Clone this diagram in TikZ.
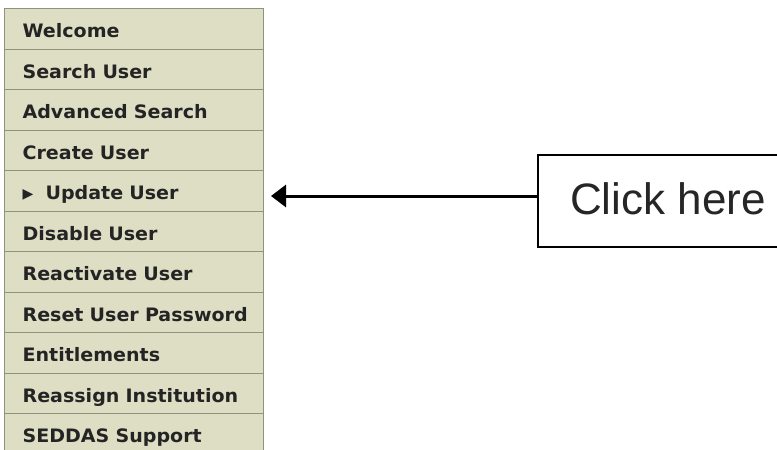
\documentclass[tikz,border=0pt]{standalone}
\usepackage{fontspec}
\setmainfont{Liberation Sans}
\newfontfamily\menufont[FakeStretch=1.03]{DejaVu Sans}
\newfontfamily\symfont{DejaVu Sans}
\usetikzlibrary{arrows.meta}
\definecolor{menubg}{RGB}{221,222,196}
\definecolor{menusep}{RGB}{140,148,126}
\definecolor{menutext}{RGB}{36,36,36}
\tikzset{
  item/.style={rectangle, anchor=north west, fill=menubg, draw=menusep, line width=1.2pt,
    minimum width=259pt, minimum height=40.5pt, inner xsep=0pt, inner ysep=0pt,
    text width=223pt, align=left, text height=17.5pt, text depth=0pt,
    font=\menufont\bfseries\fontsize{18.5}{20}\selectfont, text=menutext},
  callout/.style={rectangle, draw=black, line width=2pt, fill=white, anchor=north west,
    minimum width=260pt, minimum height=92pt, inner sep=0pt},
  pointer/.style={-{Triangle[length=15pt,width=22pt]}, line width=3pt, black}
}
\begin{document}
\begin{tikzpicture}[x=1pt,y=-1pt]
\useasboundingbox (0,0) rectangle (777,450);
\clip (0,0) rectangle (777,450);
\fill[white] (0,0) rectangle (777,450);
\node[item] (m1) at (4,8) {Welcome};
\node[item] (m2) at (4,48.5) {Search User};
\node[item] (m3) at (4,89) {Advanced Search};
\node[item] (m4) at (4,129.5) {Create User};
\node[item] (m5) at (4,170) {\makebox[23pt][l]{\raisebox{1pt}{\symfont\fontsize{14}{15}\selectfont ▶}}Update User};
\node[item] (m6) at (4,210.5) {Disable User};
\node[item] (m7) at (4,251) {Reactivate User};
\node[item] (m8) at (4,291.5) {\mbox{Reset User Password}};
\node[item] (m9) at (4,332) {Entitlements};
\node[item] (m10) at (4,372.5) {Reassign Institution};
\node[item] (m11) at (4,413) {SEDDAS Support};
\node[callout] (box) at (537,154) {};
\node[anchor=west, inner sep=0pt, font=\fontsize{44}{50}\selectfont, text=black!85]
  (lbl) at (570,199) {Click here};
\coordinate (tip) at (271,196);
\draw[pointer] (box.west |- tip) -- (tip);
\end{tikzpicture}
\end{document}
